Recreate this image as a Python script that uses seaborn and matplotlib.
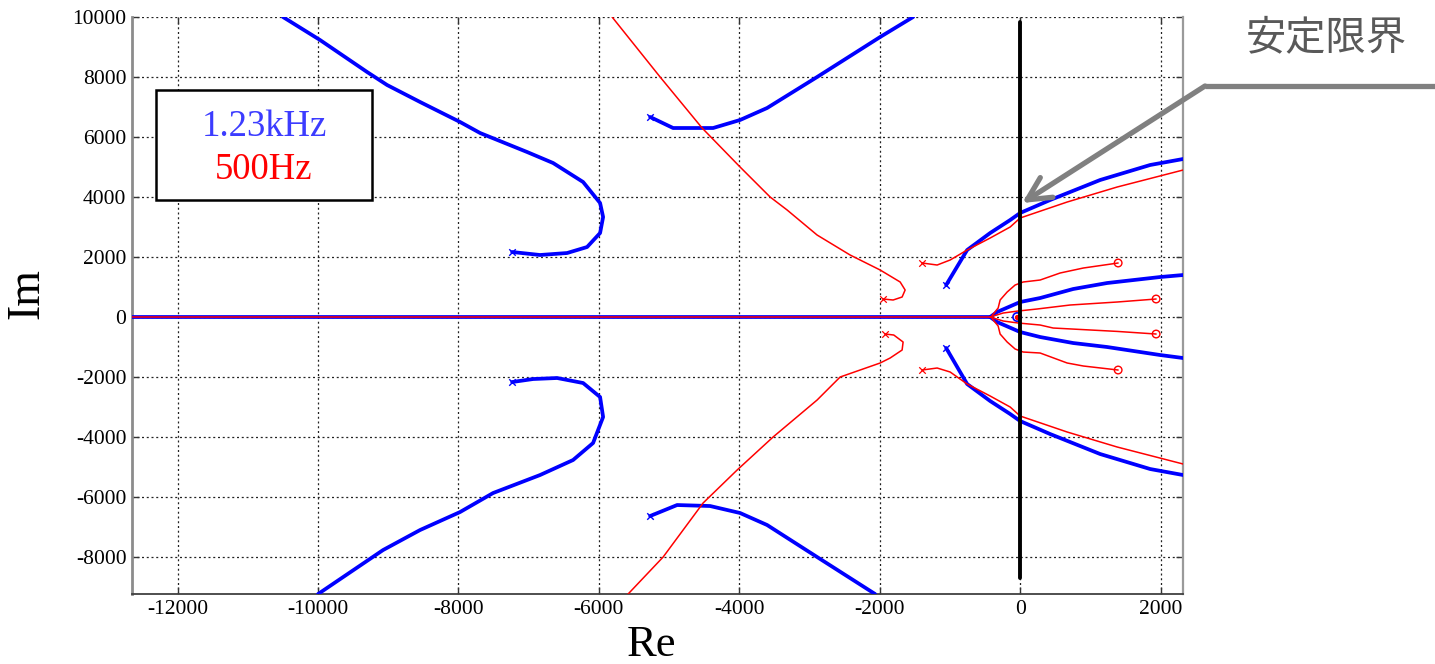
import numpy as np
import pandas as pd
import matplotlib
matplotlib.use("Agg")
import matplotlib.pyplot as plt
from matplotlib.lines import Line2D
from matplotlib.patches import Rectangle
import seaborn as sns

# ---------------- data ----------------
# 1.23 kHz (blue) root-locus branches
b_ul_re = [-10500, -9972, -9302, -9017, -8547, -7977, -7692, -7023, -6652, -6225, -5983, -5940, -5983, -6168, -6453, -6838, -7236]
b_ul_im = [10000, 9233, 8167, 7733, 7167, 6500, 6133, 5500, 5133, 4500, 3800, 3333, 2800, 2333, 2133, 2067, 2167]
b_ll_re = [-10000, -9074, -8547, -7977, -7507, -6838, -6368, -6083, -5940, -5983, -6225, -6595, -6937, -7236]
b_ll_im = [-9233, -7767, -7100, -6500, -5867, -5267, -4767, -4200, -3333, -2667, -2200, -2033, -2067, -2167]
b_um_re = [-5270, -4943, -4373, -3989, -3604, -2892, -1994, -1524]
b_um_im = [6667, 6300, 6300, 6567, 6967, 8000, 9333, 10000]
b_lm_re = [-5270, -4886, -4416, -3989, -3604, -2892, -2066]
b_lm_im = [-6633, -6267, -6300, -6533, -6933, -8000, -9233]
b_ur_re = [-1054, -755, -427, -142, 0, 427, 1140, 1852, 2322]
b_ur_im = [1067, 2233, 2800, 3233, 3467, 3900, 4567, 5067, 5267]
b_lr_re = [-1054, -755, -427, -142, 0, 427, 1140, 1852, 2322]
b_lr_im = [-1033, -2233, -2800, -3233, -3467, -3900, -4567, -5067, -5267]
b_ui_re = [-427, -328, 0, 285, 755, 1239, 1994, 2322]
b_ui_im = [0, 167, 500, 633, 933, 1133, 1333, 1400]
b_li_re = [-427, -328, 0, 285, 755, 1239, 1994, 2322]
b_li_im = [0, -167, -500, -667, -867, -1000, -1267, -1367]
b_ax_re = [-12650, -427]
b_ax_im = [0, 0]
b_start_re = [-7236, -7236, -5270, -5270, -1054, -1054]
b_start_im = [2167, -2167, 6667, -6633, 1067, -1033]

# 500 Hz (red) root-locus branches
r_ul_re = [-5812, -5128, -4530, -3989, -3561, -3319, -2892, -2422, -1994, -1709, -1638, -1681, -1809, -1952]
r_ul_im = [10000, 8000, 6300, 5000, 4000, 3567, 2733, 2067, 1567, 1167, 900, 667, 567, 600]
r_ll_re = [-5584, -5085, -4516, -4031, -3519, -2892, -2564, -1994, -1852, -1681, -1667, -1800, -1923]
r_ll_im = [-9233, -8000, -6200, -5100, -4000, -2767, -2000, -1533, -1367, -1100, -833, -600, -567]
r_ur_re = [-1396, -1182, -997, -755, -427, -142, 0, 670, 1382, 2322]
r_ur_im = [1800, 1733, 1900, 2233, 2633, 3000, 3300, 3833, 4333, 4900]
r_lr_re = [-1396, -1182, -997, -755, -427, -142, 0, 670, 1382, 2322]
r_lr_im = [-1767, -1700, -1833, -2233, -2633, -3000, -3300, -3833, -4333, -4900]
r_uo_re = [-400, -313, -285, -185, -71, 43, 285, 570, 900, 1396]
r_uo_im = [50, 300, 567, 833, 1067, 1167, 1233, 1467, 1633, 1800]
r_lo_re = [-400, -313, -285, -185, -71, 43, 285, 670, 900, 1396]
r_lo_im = [-50, -300, -567, -833, -1067, -1167, -1200, -1533, -1633, -1767]
r_ui_re = [-427, -242, -28, 242, 712, 1382, 1937]
r_ui_im = [0, 133, 200, 267, 400, 500, 600]
r_li_re = [-427, -242, -28, 285, 470, 1382, 1937]
r_li_im = [0, -133, -200, -267, -367, -480, -567]
r_ax_re = [-12650, -427]
r_ax_im = [0, 0]
r_start_re = [-1952, -1923, -1396, -1396]
r_start_im = [600, -567, 1800, -1767]
r_end_re = [1396, 1937, 1937, 1396]
r_end_im = [1800, 600, -567, -1767]

origin_re = [-43]
origin_im = [0]
stab_re = [0, 0]
stab_im = [9830, -8700]

legend_labels = ["1.23kHz", "500Hz"]
x_ticks = [-12000, -10000, -8000, -6000, -4000, -2000, 0, 2000]
y_ticks = [-8000, -6000, -4000, -2000, 0, 2000, 4000, 6000, 8000, 10000]
annot_text = "安定限界"

# ---------------- style ----------------
sns.set_style("ticks")
plt.rcParams["font.family"] = ["Liberation Serif", "DejaVu Serif"]
plt.rcParams["axes.unicode_minus"] = False
plt.rcParams["axes.labelcolor"] = "black"

BLUE = "#0000ff"
RED = "#ff0000"

fig = plt.figure(figsize=(14.35, 6.64), dpi=100)
ax = fig.add_axes([0.092, 0.1054, 0.7324, 0.869])

def branch(re, im, color, lw, z):
    df = pd.DataFrame({"Re": re, "Im": im})
    sns.lineplot(data=df, x="Re", y="Im", sort=False, estimator=None,
                 color=color, lw=lw, ax=ax, zorder=z)

blue_branches = [(b_ul_re, b_ul_im), (b_ll_re, b_ll_im), (b_um_re, b_um_im),
                 (b_lm_re, b_lm_im), (b_ur_re, b_ur_im), (b_lr_re, b_lr_im),
                 (b_ui_re, b_ui_im), (b_li_re, b_li_im), (b_ax_re, b_ax_im)]
red_branches = [(r_ul_re, r_ul_im), (r_ll_re, r_ll_im), (r_ur_re, r_ur_im),
                (r_lr_re, r_lr_im), (r_uo_re, r_uo_im), (r_lo_re, r_lo_im),
                (r_ui_re, r_ui_im), (r_li_re, r_li_im), (r_ax_re, r_ax_im)]

for re, im in blue_branches:
    branch(re, im, BLUE, 2.7, 3)
for re, im in red_branches:
    branch(re, im, RED, 1.1, 4)

sns.scatterplot(x=b_start_re, y=b_start_im, marker="x", color=BLUE, s=22,
                linewidth=1.0, ax=ax, zorder=5)
sns.scatterplot(x=r_start_re, y=r_start_im, marker="x", color=RED, s=22,
                linewidth=0.9, ax=ax, zorder=5)
ax.scatter(r_end_re, r_end_im, marker="o", facecolors="none", edgecolors=RED,
           s=30, linewidths=1.0, zorder=5)
ax.scatter(origin_re, origin_im, marker="o", facecolors="none", edgecolors=BLUE,
           s=36, linewidths=1.2, zorder=6)
ax.scatter(origin_re, origin_im, marker="o", color=RED, s=8, zorder=7)

# stability boundary
sns.lineplot(x=stab_re, y=stab_im, sort=False, estimator=None, color="black",
             lw=2.8, ax=ax, zorder=8)

# ---------------- axes ----------------
ax.set_xlim(-12650, 2320)
ax.set_ylim(-9233, 10000)
ax.set_xticks(x_ticks)
ax.set_yticks(y_ticks)
ax.set_xticklabels([str(v) for v in x_ticks])
ax.set_yticklabels([str(v) for v in y_ticks])
ax.grid(True, linestyle=(0, (1.6, 2.2)), color="#222222", lw=0.9)
ax.tick_params(axis="both", which="both", direction="in", length=5, width=1,
               colors="#333333", labelcolor="black", labelsize=15.5,
               top=True, right=True, pad=4)
ax.spines["top"].set_visible(False)
ax.spines["left"].set_color("#8c8c8c")
ax.spines["left"].set_linewidth(2.0)
ax.spines["right"].set_color("#9a9a9a")
ax.spines["right"].set_linewidth(1.6)
ax.spines["bottom"].set_color("#404040")
ax.spines["bottom"].set_linewidth(1.3)

ax.set_xlabel("Re", fontsize=32, color="black")
ax.set_ylabel("Im", fontsize=33, color="black")
ax.xaxis.set_label_coords(0.494, -0.053)
ax.yaxis.set_label_coords(-0.080, 0.52)

# legend box
ax.add_patch(Rectangle((0.0228, 0.6828), 0.2056, 0.1907, transform=ax.transAxes,
                       facecolor="white", edgecolor="black", lw=1.8, zorder=10))
ax.text(0.1256, 0.810, legend_labels[0], transform=ax.transAxes, color="#3c3cff",
        fontsize=26.5, ha="center", va="center", zorder=11)
ax.text(0.1256, 0.736, legend_labels[1], transform=ax.transAxes, color=RED,
        fontsize=26.5, ha="center", va="center", zorder=11)

# annotation
GRAY = "#808080"
fig.text(1326 / 1435, 1 - 38 / 664, annot_text, fontsize=29, color="#595959",
         family=["Noto Sans CJK JP", "DejaVu Sans"], ha="center", va="center")
y_bend = 1 - 86 / 664
x_bend = 1205 / 1435
fig.add_artist(Line2D([x_bend, 1.0], [y_bend, y_bend], transform=fig.transFigure,
                      color=GRAY, lw=3.8, solid_capstyle="butt"))
ax.annotate("", xy=(30, 3800), xycoords="data",
            xytext=(x_bend, y_bend), textcoords="figure fraction",
            arrowprops=dict(arrowstyle="->,head_length=0.83,head_width=0.42",
                            color=GRAY, lw=3.8, shrinkA=0, shrinkB=0,
                            mutation_scale=20),
            annotation_clip=False, zorder=12)

fig.savefig("out.png", dpi=100)
